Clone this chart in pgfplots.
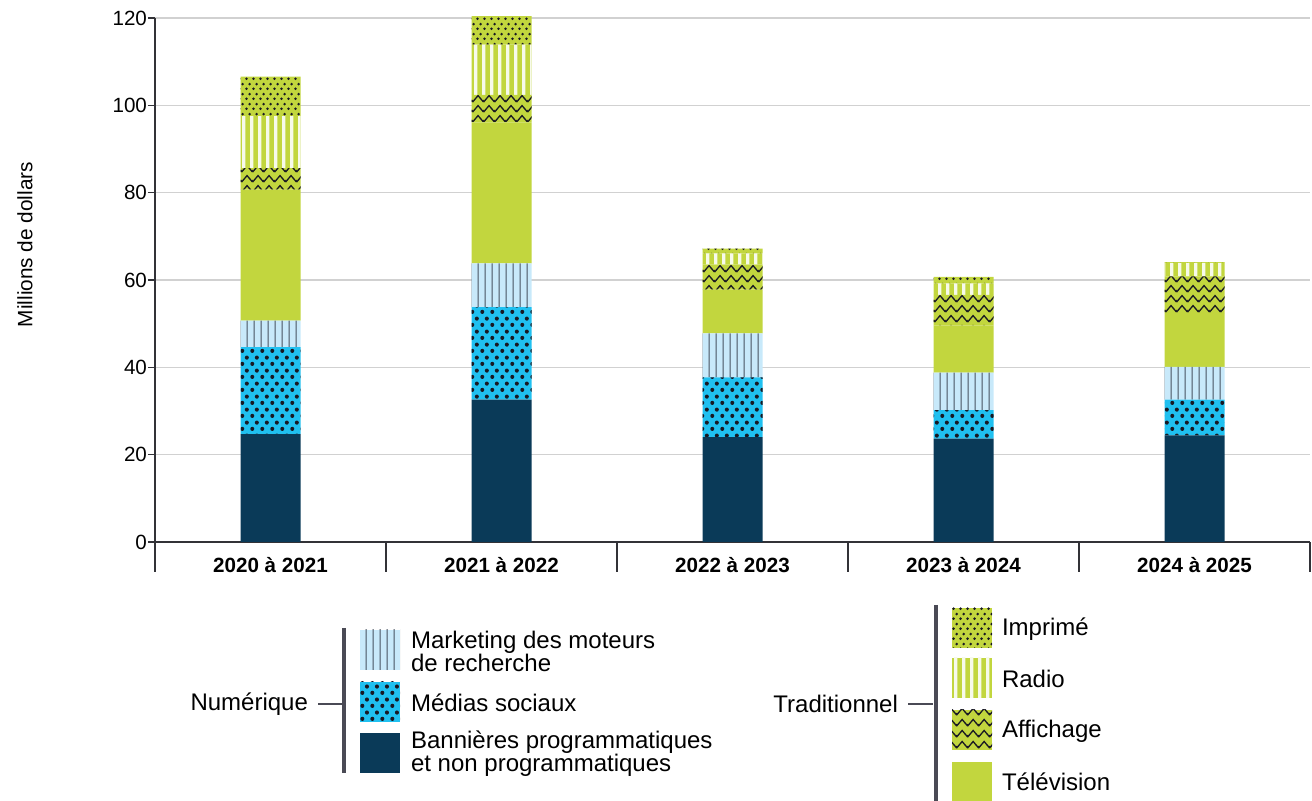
\documentclass[border=0pt]{standalone}
\usepackage{fontspec}
\setmainfont{Liberation Sans}
\usepackage{pgfplots}
\usepackage{pgfplotstable}
\pgfplotsset{compat=1.18}
\usetikzlibrary{patterns}

\definecolor{navy}{RGB}{10,58,88}
\definecolor{cyanb}{RGB}{32,192,240}
\definecolor{lightb}{RGB}{200,233,250}
\definecolor{lime}{RGB}{194,214,62}
\definecolor{stripe}{RGB}{247,250,235}
\definecolor{vline}{RGB}{70,82,95}
\definecolor{dotc}{RGB}{25,25,35}
\definecolor{axisc}{RGB}{50,50,55}
\definecolor{legbar}{RGB}{74,74,85}

\pgfdeclarepatternformonly{vlinesS}{\pgfqpoint{0pt}{0pt}}{\pgfqpoint{3.3pt}{2pt}}{\pgfqpoint{3.3pt}{2pt}}{%
  \pgfsetlinewidth{0.55pt}%
  \pgfpathmoveto{\pgfqpoint{1.65pt}{-0.5pt}}%
  \pgfpathlineto{\pgfqpoint{1.65pt}{2.5pt}}%
  \pgfusepath{stroke}}
\pgfdeclarepatternformonly{wstripes}{\pgfqpoint{0pt}{0pt}}{\pgfqpoint{4pt}{2pt}}{\pgfqpoint{4pt}{2pt}}{%
  \pgfpathrectangle{\pgfqpoint{1.2pt}{-0.5pt}}{\pgfqpoint{1.8pt}{3pt}}%
  \pgfusepath{fill}}
\pgfdeclarepatternformonly{bigdots}{\pgfqpoint{0pt}{0pt}}{\pgfqpoint{5pt}{6.6pt}}{\pgfqpoint{5pt}{6.6pt}}{%
  \pgfpathcircle{\pgfqpoint{1.25pt}{1.65pt}}{1.1pt}%
  \pgfpathcircle{\pgfqpoint{3.75pt}{4.95pt}}{1.1pt}%
  \pgfusepath{fill}}
\pgfdeclarepatternformonly{smalldots}{\pgfqpoint{0pt}{0pt}}{\pgfqpoint{3.5pt}{5pt}}{\pgfqpoint{3.5pt}{5pt}}{%
  \pgfpathcircle{\pgfqpoint{0.875pt}{1.25pt}}{0.78pt}%
  \pgfpathcircle{\pgfqpoint{2.625pt}{3.75pt}}{0.78pt}%
  \pgfusepath{fill}}
\pgfdeclarepatternformonly{zigzag}{\pgfqpoint{0pt}{0pt}}{\pgfqpoint{5.5pt}{5.2pt}}{\pgfqpoint{5.5pt}{5.2pt}}{%
  \pgfsetlinewidth{0.7pt}%
  \pgfsetmiterjoin%
  \pgfpathmoveto{\pgfqpoint{-1pt}{1.9pt}}%
  \pgfpathlineto{\pgfqpoint{0pt}{0.75pt}}%
  \pgfpathlineto{\pgfqpoint{2.75pt}{3.9pt}}%
  \pgfpathlineto{\pgfqpoint{5.5pt}{0.75pt}}%
  \pgfpathlineto{\pgfqpoint{6.5pt}{1.9pt}}%
  \pgfusepath{stroke}}

\tikzset{
  sBan/.style={fill=navy, draw=none},
  sSoc/.style={fill=cyanb, draw=none, postaction={pattern=bigdots, pattern color=dotc}},
  sSea/.style={fill=lightb, draw=none, postaction={pattern=vlinesS, pattern color=vline}},
  sTv/.style={fill=lime, draw=none},
  sAff/.style={fill=lime, draw=none, postaction={pattern=zigzag, pattern color=dotc}},
  sRad/.style={fill=lime, draw=none, postaction={pattern=wstripes, pattern color=stripe}},
  sImp/.style={fill=lime, draw=none, postaction={pattern=smalldots, pattern color=dotc}},
}

\pgfplotstableread{
x ban soc sea tv aff rad imp
0 24.7 19.9 6.1 30.0 4.9 11.9 9.1
1 32.6 21.2 10.0 32.3 6.3 11.5 6.5
2 24.0 13.7 10.1 10.0 5.7 2.6 1.1
3 23.7 6.5 8.6 10.8 7.0 2.6 1.5
4 24.4 8.2 7.5 12.3 8.4 3.1 0.2
}\data

\begin{document}
\begin{tikzpicture}
\path[use as bounding box] (-77.5pt,-129.5pt) rectangle (578.5pt,271pt);
\begin{axis}[
  at={(0,0)}, anchor=south west,
  scale only axis, width=577.5pt, height=262pt,
  xmin=-0.5, xmax=4.5, ymin=0, ymax=120,
  ybar stacked, bar width=30pt,
  clip=false,
  axis x line*=bottom, axis y line*=left,
  axis line style={-, draw=axisc, line width=1pt},
  xtick={0,1,2,3,4},
  xticklabels={2020 à 2021, 2021 à 2022, 2022 à 2023, 2023 à 2024, 2024 à 2025},
  xtick style={draw=none},
  xticklabel style={font=\fontsize{10.3}{12}\selectfont\bfseries, yshift=-0.5pt},
  ytick={0,20,...,120},
  tick align=outside, major tick length=3.5pt,
  ytick style={draw=axisc, line width=0.8pt},
  yticklabel style={font=\fontsize{10.3}{12}\selectfont, xshift=3pt},
  /pgf/number format/assume math mode=true,
  ymajorgrids, grid style={draw=black!18, line width=0.7pt},
]
\addplot[sBan] table[x=x, y=ban] {\data};
\addplot[sSoc] table[x=x, y=soc] {\data};
\addplot[sSea] table[x=x, y=sea] {\data};
\addplot[sTv] table[x=x, y=tv] {\data};
\addplot[sAff] table[x=x, y=aff] {\data};
\addplot[sRad] table[x=x, y=rad] {\data};
\addplot[sImp] table[x=x, y=imp] {\data};
\draw[axisc, line width=1pt] (axis cs:-0.5,0) -- ([yshift=-15pt]axis cs:-0.5,0);
\draw[axisc, line width=1pt] (axis cs:0.5,0) -- ([yshift=-15pt]axis cs:0.5,0);
\draw[axisc, line width=1pt] (axis cs:1.5,0) -- ([yshift=-15pt]axis cs:1.5,0);
\draw[axisc, line width=1pt] (axis cs:2.5,0) -- ([yshift=-15pt]axis cs:2.5,0);
\draw[axisc, line width=1pt] (axis cs:3.5,0) -- ([yshift=-15pt]axis cs:3.5,0);
\draw[axisc, line width=1pt] (axis cs:4.5,0) -- ([yshift=-15pt]axis cs:4.5,0);
\end{axis}
\node[rotate=90, font=\fontsize{10.4}{12}\selectfont] at (-65pt,148.75pt) {Millions de dollars};

% Legend: Numerique
\begin{scope}[font=\fontsize{12}{11.5}\selectfont]
\node[anchor=east] at (80pt,-81pt) {Numérique};
\draw[legbar, line width=0.6pt] (81.5pt,-81pt) -- (94pt,-81pt);
\draw[legbar, line width=1.6pt] (94.5pt,-43pt) -- (94.5pt,-115.5pt);
\path[sSea] (102.5pt,-44pt) rectangle (122.5pt,-64pt);
\path[sSoc] (102.5pt,-70pt) rectangle (122.5pt,-90pt);
\path[sBan] (102.5pt,-95.5pt) rectangle (122.5pt,-115.5pt);
\node[anchor=west, align=left] at (124.5pt,-54.5pt) {Marketing des moteurs\\de recherche};
\node[anchor=west] at (124.5pt,-80.5pt) {Médias sociaux};
\node[anchor=west, align=left] at (124.5pt,-106pt) {Bannières programmatiques\\et non programmatiques};

% Legend: Traditionnel
\node[anchor=east] at (375pt,-81pt) {Traditionnel};
\draw[legbar, line width=0.6pt] (376.5pt,-81pt) -- (389pt,-81pt);
\draw[legbar, line width=1.6pt] (390.5pt,-31.5pt) -- (390.5pt,-129.5pt);
\path[sImp] (398.5pt,-33pt) rectangle (418.5pt,-53pt);
\path[sRad] (398.5pt,-58pt) rectangle (418.5pt,-78pt);
\path[sAff] (398.5pt,-84pt) rectangle (418.5pt,-104pt);
\path[sTv] (398.5pt,-110pt) rectangle (418.5pt,-129.5pt);
\node[anchor=west] at (420pt,-43.5pt) {Imprimé};
\node[anchor=west] at (420pt,-68.5pt) {Radio};
\node[anchor=west] at (420pt,-94.5pt) {Affichage};
\node[anchor=west] at (420pt,-120pt) {Télévision};
\end{scope}
\end{tikzpicture}
\end{document}
